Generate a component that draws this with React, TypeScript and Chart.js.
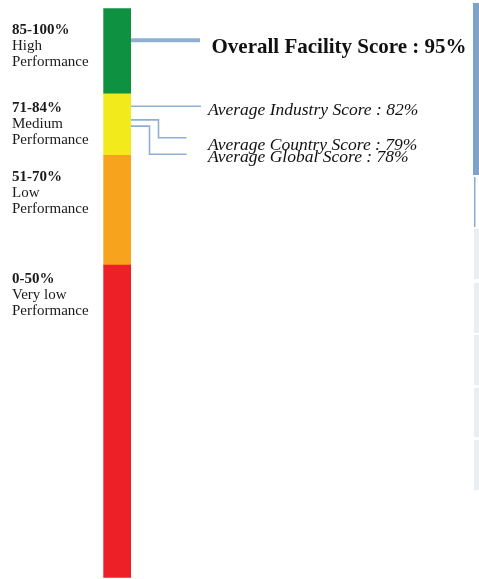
import React, { useEffect, useRef } from "react";
import { Chart, registerables } from "chart.js";

Chart.register(...registerables);

// Performance bands (bottom to top)
const bandNames = ["Very low", "Low", "Medium", "High"];
const bandRanges = ["0-50%", "51-70%", "71-84%", "85-100%"];
const bandValues = [54.9, 19.3, 10.8, 15.0];
const bandColors = ["#ee2027", "#f8a31d", "#f3ea1b", "#0f9142"];

// Scores and where their leader lines meet the bar (on the 0-100 scale)
const scoreNames = [
  "Overall Facility Score",
  "Average Industry Score",
  "Average Country Score",
  "Average Global Score",
];
const scoreValues = [95, 82, 79, 78];
const scorePointers = [94.4, 82.8, 80.4, 79.3];

const SERIF = '"Liberation Serif", "Times New Roman", serif';
const LINE = "#8fb0d2";

const overlay = {
  id: "overlay",
  afterDraw(chart: any) {
    const ctx = chart.ctx as CanvasRenderingContext2D;
    const y = chart.scales.y;
    const area = chart.chartArea;
    const barRight = area.right;
    ctx.save();

    // left band labels (top to bottom)
    ctx.textAlign = "left";
    ctx.textBaseline = "middle";
    ctx.fillStyle = "#1a1a1a";
    const labelTops = [30, 108, 177, 279];
    for (let i = 0; i < 4; i++) {
      const bi = 3 - i;
      const ty = labelTops[i];
      ctx.font = `bold 15px ${SERIF}`;
      ctx.fillText(bandRanges[bi], 12, ty);
      ctx.font = `15px ${SERIF}`;
      ctx.fillText(bandNames[bi], 12, ty + 16);
      ctx.fillText("Performance", 12, ty + 32);
    }

    // leader lines
    ctx.strokeStyle = LINE;
    const py = scorePointers.map((v) => y.getPixelForValue(v));

    // overall
    ctx.lineWidth = 4;
    ctx.beginPath();
    ctx.moveTo(barRight, py[0]);
    ctx.lineTo(200, py[0]);
    ctx.stroke();

    ctx.lineWidth = 1.6;
    // industry
    ctx.beginPath();
    ctx.moveTo(barRight, py[1]);
    ctx.lineTo(201, py[1]);
    ctx.stroke();
    // country
    ctx.beginPath();
    ctx.moveTo(barRight, py[2]);
    ctx.lineTo(158.5, py[2]);
    ctx.lineTo(158.5, 137.7);
    ctx.lineTo(186.5, 137.7);
    ctx.stroke();
    // global
    ctx.beginPath();
    ctx.moveTo(barRight, py[3]);
    ctx.lineTo(149.5, py[3]);
    ctx.lineTo(149.5, 154.3);
    ctx.lineTo(186.5, 154.3);
    ctx.stroke();

    // score texts
    ctx.fillStyle = "#111";
    ctx.font = `bold 21px ${SERIF}`;
    ctx.fillText(`${scoreNames[0]} : ${scoreValues[0]}%`, 211.5, py[0] + 7.5);
    ctx.font = `italic 17.5px ${SERIF}`;
    ctx.fillText(`${scoreNames[1]} : ${scoreValues[1]}%`, 208, py[1] + 4);
    ctx.fillText(`${scoreNames[2]} : ${scoreValues[2]}%`, 208, 145);
    ctx.fillText(`${scoreNames[3]} : ${scoreValues[3]}%`, 208, 157);

    // cut-off table at the right edge
    ctx.fillStyle = "#7fa3c8";
    ctx.fillRect(473, 3, 6, 172);
    ctx.fillStyle = "#8caccd";
    ctx.fillRect(474, 177, 1.5, 50);
    ctx.fillStyle = "#e8eef1";
    const rows = [[229, 279], [283, 333], [335, 385], [388, 437], [440, 490]];
    for (const [a, b] of rows) ctx.fillRect(474, a, 5, b - a);

    ctx.restore();
  },
};

export default function App() {
  const ref = useRef<HTMLCanvasElement>(null);
  useEffect(() => {
    document.body.style.margin = "0";
    const chart = new Chart(ref.current!, {
      type: "bar",
      data: {
        labels: ["Score"],
        datasets: bandValues.map((v, i) => ({
          label: bandNames[i],
          data: [v],
          backgroundColor: bandColors[i],
          borderWidth: 0,
          barPercentage: 1,
          categoryPercentage: 1,
        })),
      },
      options: {
        animation: false,
        responsive: true,
        maintainAspectRatio: false,
        layout: { padding: { left: 103.3, right: 348, top: 8.3, bottom: 1.3 } },
        plugins: { legend: { display: false }, tooltip: { enabled: false } },
        scales: {
          x: { display: false, stacked: true },
          y: { display: false, stacked: true, min: 0, max: 100 },
        },
      },
      plugins: [overlay],
    });
    return () => chart.destroy();
  }, []);
  return (
    <div style={{ position: "fixed", left: 0, top: 0, width: 479, height: 579, background: "#fff" }}>
      <canvas ref={ref} />
    </div>
  );
}
